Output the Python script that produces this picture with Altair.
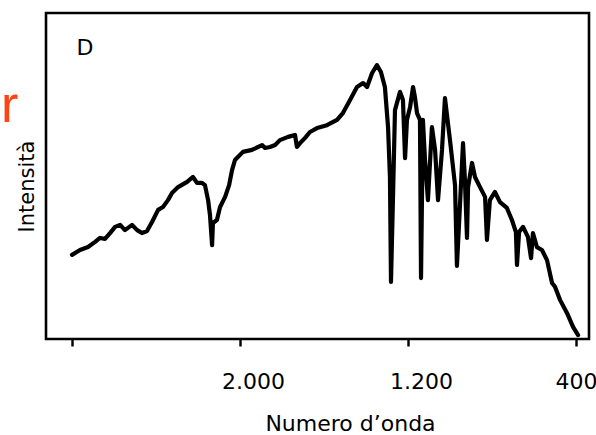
import altair as alt
import pandas as pd

# Spectrum trace: wavenumber (cm^-1) and relative intensity
wavenumber = [
    2800, 2762, 2724, 2690, 2667, 2643, 2619, 2595, 2571, 2548,
    2514, 2490, 2467, 2443, 2419, 2390, 2367, 2343, 2324, 2295,
    2252, 2224, 2205, 2181, 2167, 2152, 2143, 2133, 2129, 2110,
    2095, 2071, 2052, 2038, 2024, 1986, 1943, 1895, 1881, 1857,
    1833, 1810, 1771, 1738, 1729, 1714, 1690, 1667, 1633, 1586,
    1538, 1510, 1476, 1443, 1414, 1395, 1371, 1348, 1329, 1310,
    1295, 1286, 1281, 1271, 1262, 1238, 1224, 1214, 1205, 1190,
    1176, 1167, 1157, 1143, 1138, 1129, 1119, 1105, 1086, 1071,
    1057, 1038, 1024, 1000, 976, 967, 952, 938, 929, 919,
    914, 895, 881, 857, 833, 824, 810, 786, 762, 729,
    705, 686, 681, 671, 652, 629, 614, 605, 586, 562,
    538, 514, 500, 476, 443, 414, 390,
]
intensity = [
    25.8, 27.3, 28.2, 29.8, 31.0, 30.7, 32.5, 34.4, 35.0, 33.4,
    35.0, 33.4, 32.5, 33.1, 35.9, 39.6, 40.5, 42.6, 44.8, 46.6,
    48.2, 49.7, 47.9, 47.9, 47.2, 42.6, 38.0, 28.8, 35.6, 36.5,
    40.5, 43.6, 47.2, 51.8, 54.9, 57.4, 58.0, 59.5, 58.6, 58.9,
    59.5, 61.0, 62.0, 62.6, 58.9, 60.1, 61.7, 63.5, 64.7, 65.6,
    67.2, 69.3, 73.3, 77.3, 78.5, 77.3, 81.6, 84.0, 81.9, 77.3,
    65.0, 49.7, 17.5, 44.8, 70.2, 75.8, 73.3, 55.5, 67.2, 71.2,
    77.3, 74.2, 69.3, 67.2, 18.7, 67.2, 54.9, 42.6, 65.0, 58.0,
    42.6, 58.0, 73.9, 61.0, 47.2, 22.4, 41.7, 60.1, 48.8, 31.0,
    46.6, 54.0, 49.7, 46.6, 43.6, 30.4, 42.6, 45.1, 42.0, 40.2,
    36.5, 32.8, 22.7, 32.8, 34.4, 31.3, 24.8, 32.5, 28.2, 27.3,
    24.2, 17.2, 16.0, 12.0, 8.0, 3.7, 1.2,
]

# Axis ticks (wavenumber runs high to low) and their printed labels
tick_values = [2800, 2000, 1200, 400]
tick_labels = ["", "2.000", "1.200", "400"]

x_title = "Numero d\u2019onda"
y_title = "Intensit\u00e0"
panel_letter = "D"
side_mark = "r"

FONT = "DejaVu Sans"

spectrum = pd.DataFrame({"wn": wavenumber, "intensity": intensity})

label_expr = " : ".join(
    f"datum.value == {v} ? '{t}'" for v, t in zip(tick_values, tick_labels)
) + " : ''"

line = alt.Chart(spectrum).mark_line(
    color="black", strokeWidth=4.2, strokeJoin="round", strokeCap="round"
).encode(
    x=alt.X(
        "wn:Q",
        scale=alt.Scale(domain=[2924, 338], nice=False, zero=False),
        axis=alt.Axis(
            values=tick_values,
            labelExpr=label_expr,
            title=x_title,
            grid=False,
            domain=False,
            ticks=True,
            tickSize=7,
            tickWidth=2.4,
            tickColor="black",
            labelFont=FONT,
            labelFontSize=22,
            labelColor="black",
            labelPadding=25,
            labelOffset={"condition": {"test": "datum.value <= 400", "value": 0}, "value": 13},
            labelFlush=False,
            labelOverlap=False,
            titleFont=FONT,
            titleFontSize=22,
            titleFontWeight="normal",
            titleColor="black",
            titleAlign="center",
            titleBaseline="alphabetic",
            titleX=304,
            titleY=91,
        ),
    ),
    y=alt.Y(
        "intensity:Q",
        scale=alt.Scale(domain=[0, 100], nice=False),
        axis=alt.Axis(
            title=y_title,
            grid=False,
            domain=False,
            ticks=False,
            labels=False,
            titleFont=FONT,
            titleFontSize=21,
            titleFontWeight="normal",
            titleColor="black",
            titleAngle=270,
            titleAlign="center",
            titleBaseline="alphabetic",
            titleX=-13,
            titleY=173,
        ),
    ),
)

letter = alt.Chart(pd.DataFrame({"t": [panel_letter]})).mark_text(
    font=FONT, fontSize=22, fontWeight=500, color="black", align="center",
    baseline="alphabetic",
).encode(text="t:N", x=alt.value(39), y=alt.value(42))

side = alt.Chart(pd.DataFrame({"t": [side_mark]})).mark_text(
    font="Liberation Sans", fontSize=52, color="#ff4413", align="left",
    baseline="alphabetic",
).encode(text="t:N", x=alt.value(-45), y=alt.value(109))

chart = alt.layer(line, letter, side).properties(
    width=543,
    height=326,
    autosize=alt.AutoSizeParams(type="none"),
    padding={"left": 46, "top": 13, "right": 7, "bottom": 96},
    background="white",
).configure_view(
    stroke="black", strokeWidth=2.6, fill="white"
)

chart.save("out.html", embed_options={"renderer": "svg", "actions": False})
